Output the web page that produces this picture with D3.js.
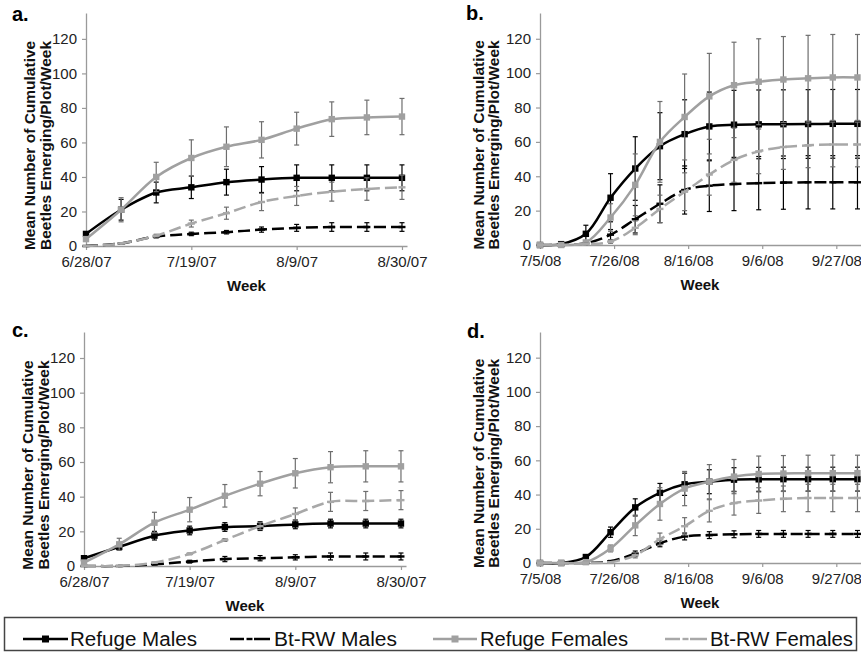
<!DOCTYPE html>
<html>
<head>
<meta charset="utf-8">
<script src="https://cdn.jsdelivr.net/npm/d3@7"></script>
<style>
  body { margin: 0; background: #fff; }
  svg { display: block; font-family: "Liberation Sans", Arial, sans-serif; }
</style>
</head>
<body>
<svg id="chart" width="861" height="652"></svg>
<script>

var seriesNames = ["Refuge Males", "Bt-RW Males", "Refuge Females", "Bt-RW Females"];

// sample weeks
var weeks2007 = ["2007-06-28","2007-07-05","2007-07-12","2007-07-19","2007-07-26","2007-08-02","2007-08-09","2007-08-16","2007-08-23","2007-08-30"];
var weeks2008 = ["2008-07-05","2008-07-11","2008-07-18","2008-07-25","2008-08-01","2008-08-08","2008-08-15","2008-08-22","2008-08-29","2008-09-05","2008-09-12","2008-09-19","2008-09-26","2008-10-03"];
var ticks2007 = ["2007-06-28","2007-07-19","2007-08-09","2007-08-30"];
var ticks2008 = ["2008-07-05","2008-07-26","2008-08-16","2008-09-06","2008-09-27"];
var yTicks = [0, 20, 40, 60, 80, 100, 120];

// panel a (2007)
var aRefugeMales    = [7, 21, 31, 34, 37, 38.5, 39.5, 39.5, 39.5, 39.5];
var aRefugeMalesErr = [1, 6, 6, 6.5, 7.5, 7.5, 7.5, 7.5, 7.5, 7.5];
var aBtMales        = [0, 1.5, 5.5, 7, 8, 9.5, 10.5, 11, 11, 11];
var aBtMalesErr     = [0, 0.3, 0.8, 1, 1, 1.5, 2, 2.5, 2.5, 2.5];
var aRefugeFem      = [4, 21, 40, 51, 57.5, 61.5, 68, 73.5, 74.5, 75];
var aRefugeFemErr   = [1, 7, 8.5, 10.5, 11.5, 10.5, 9.5, 10, 10, 10.5];
var aBtFem          = [0, 1.5, 6, 13, 19, 25.5, 29, 31.5, 33, 34];
var aBtFemErr       = [0, 0.3, 0.8, 2, 3.5, 5, 5.5, 5.5, 6.5, 7];

// panel b (2008)
var bRefugeMales    = [0, 0.5, 6.5, 27.5, 44.5, 57.5, 64.5, 69, 70, 70.2, 70.3, 70.4, 70.5, 70.5];
var bRefugeMalesErr = [0, 0.3, 5, 14, 18.5, 19.5, 20, 20, 20, 20, 20, 20, 20, 20];
var bBtMales        = [0, 0, 1, 6, 15, 24, 32, 34.5, 35.5, 36, 36.3, 36.5, 36.5, 36.5];
var bBtMalesErr     = [0, 0, 0.5, 3, 8, 11, 14, 15, 15.5, 15.5, 15.5, 15.5, 15.5, 15.5];
var bRefugeFem      = [0, 0, 1.5, 16, 35, 60, 74.5, 86.5, 93, 95, 96.3, 97, 97.5, 97.5];
var bRefugeFemErr   = [0, 0, 1, 8, 18, 23.5, 25, 25, 25, 25, 25, 25, 25, 25];
var bBtFem          = [0, 0, 0.5, 2, 10, 21, 31, 41, 49.5, 54.5, 57, 58, 58.5, 58.5];
var bBtFemErr       = [0, 0, 0.5, 1, 4, 8, 11, 12, 13, 13, 13, 13, 13, 13];

// panel c (2007)
var cRefugeMales    = [4.5, 11, 17.5, 20.5, 22.5, 23, 24, 24.5, 24.5, 24.5];
var cRefugeMalesErr = [0.5, 1.5, 2.5, 2.5, 2.5, 2.5, 2.5, 2.5, 2.5, 2.5];
var cBtMales        = [0, 0, 1, 2.5, 4, 4.5, 5, 5.5, 5.5, 5.5];
var cBtMalesErr     = [0, 0, 0.3, 0.8, 1.5, 1.5, 1.5, 2, 2, 2];
var cRefugeFem      = [2, 12.5, 25, 32.5, 40.5, 47.5, 53.5, 57, 57.5, 57.5];
var cRefugeFemErr   = [0.5, 3.5, 6, 7, 6.5, 7, 8.5, 9, 9, 9];
var cBtFem          = [0, 0, 2, 7, 15, 23, 30, 37, 37.5, 38];
var cBtFemErr       = [0, 0, 0.3, 0.5, 0.8, 2, 3.5, 5.5, 5.5, 5.5];

// panel d (2008)
var dRefugeMales    = [0, 0, 3.5, 18, 32.5, 41, 46, 47.5, 48.7, 48.9, 49, 49, 49, 49];
var dRefugeMalesErr = [0, 0, 1, 3, 5, 5.5, 6.5, 7, 7, 7, 7, 7, 7, 7];
var dBtMales        = [0, 0, 0, 1, 5.5, 11.5, 15.5, 16.3, 16.8, 17, 17, 17, 17, 17];
var dBtMalesErr     = [0, 0, 0, 0.5, 1.5, 2, 2, 2, 2, 2, 2, 2, 2, 2];
var dRefugeFem      = [0, 0, 0.5, 8.5, 22, 34.5, 43.5, 47.5, 50.5, 52, 52.3, 52.5, 52.5, 52.5];
var dRefugeFemErr   = [0, 0, 0.3, 2, 6, 9.5, 10, 10, 10, 10.5, 10.5, 10.5, 10.5, 10.5];
var dBtFem          = [0, 0, 0, 0.5, 4.5, 14, 21.5, 30.5, 35, 36.5, 37.5, 38, 38, 38];
var dBtFemErr       = [0, 0, 0, 0.3, 1.5, 3.5, 5, 6.5, 7, 7.5, 7.5, 8, 8, 8];

var parse = d3.timeParse("%Y-%m-%d");
var fmt = d3.timeFormat("%-m/%-d/%y");

var styles = [
  {color: "#000000", err: "#000000", dash: null,   marker: "square"},
  {color: "#000000", err: "#000000", dash: "12,5", marker: "dash"},
  {color: "#a0a0a0", err: "#6e6e6e", dash: null,   marker: "square"},
  {color: "#a8a8a8", err: "#6e6e6e", dash: "12,5", marker: "dash"}
];

var panels = [
  {label: "a.", lx: 12, ly: 21, weeks: weeks2007, ticks: ticks2007, end: "2007-08-31",
   left: 86, right: 407, top: 13, bottom: 246, titleX: 35,
   means: [aRefugeMales, aBtMales, aRefugeFem, aBtFem], errs: [aRefugeMalesErr, aBtMalesErr, aRefugeFemErr, aBtFemErr]},
  {label: "b.", lx: 466, ly: 20, weeks: weeks2008, ticks: ticks2008, end: "2008-10-04",
   left: 540, right: 861, top: 13, bottom: 245, titleX: 483.5,
   means: [bRefugeMales, bBtMales, bRefugeFem, bBtFem], errs: [bRefugeMalesErr, bBtMalesErr, bRefugeFemErr, bBtFemErr]},
  {label: "c.", lx: 12, ly: 337, weeks: weeks2007, ticks: ticks2007, end: "2007-08-31",
   left: 84, right: 406, top: 332, bottom: 566, titleX: 33,
   means: [cRefugeMales, cBtMales, cRefugeFem, cBtFem], errs: [cRefugeMalesErr, cBtMalesErr, cRefugeFemErr, cBtFemErr]},
  {label: "d.", lx: 467, ly: 338, weeks: weeks2008, ticks: ticks2008, end: "2008-10-04",
   left: 540, right: 861, top: 332, bottom: 563, titleX: 483.5,
   means: [dRefugeMales, dBtMales, dRefugeFem, dBtFem], errs: [dRefugeMalesErr, dBtMalesErr, dRefugeFemErr, dBtFemErr]}
];

var svg = d3.select("#chart");

panels.forEach(function(p) {

  var x = d3.scaleTime()
    .domain([parse(p.weeks[0]), parse(p.end)])
    .range([p.left, p.right]);

  var y = d3.scaleLinear()
    .domain([0, 135])
    .range([p.bottom, p.top]);

  var g = svg.append("g").attr("class", "panel");

  // axes
  var yAxis = g.append("g")
    .attr("transform", "translate(" + p.left + ",0)")
    .call(d3.axisLeft(y).tickValues(yTicks).tickSize(4).tickSizeOuter(0).tickPadding(5));

  var xAxis = g.append("g")
    .attr("transform", "translate(0," + p.bottom + ")")
    .call(d3.axisBottom(x).tickValues(p.ticks.map(parse)).tickFormat(fmt).tickSize(4).tickSizeOuter(0).tickPadding(6));

  [yAxis, xAxis].forEach(function(ax) {
    ax.select(".domain").attr("stroke", "#9a9a9a").attr("stroke-width", 1.3);
    ax.selectAll(".tick line").attr("stroke", "#9a9a9a").attr("stroke-width", 1.2);
    ax.selectAll(".tick text")
      .attr("fill", "#222")
      .style("font-size", "15px")
      .style("font-family", "'Liberation Sans', Arial, sans-serif");
  });

  // axis titles
  var cy = (y(0) + y(120)) / 2 + 3;
  var title = g.append("text")
    .attr("transform", "translate(" + p.titleX + "," + cy + ") rotate(-90)")
    .attr("text-anchor", "middle")
    .style("font-size", "15.5px")
    .style("font-weight", "bold")
    .attr("fill", "#111");
  title.append("tspan").attr("x", 0).attr("y", 0).text("Mean Number of Cumulative");
  title.append("tspan").attr("x", 0).attr("y", 15.5).text("Beetles Emerging/Plot/Week");

  g.append("text")
    .attr("x", (p.left + Math.min(p.right, 860)) / 2)
    .attr("y", p.bottom + 45)
    .attr("text-anchor", "middle")
    .style("font-size", "15px")
    .style("font-weight", "bold")
    .attr("fill", "#111")
    .text("Week");

  g.append("text")
    .attr("x", p.lx)
    .attr("y", p.ly)
    .style("font-size", "20px")
    .style("font-weight", "bold")
    .attr("fill", "#000")
    .text(p.label);

  // series
  p.means.forEach(function(vals, si) {
    var st = styles[si];
    var pts = vals.map(function(v, i) {
      return {date: parse(p.weeks[i]), v: v, e: p.errs[si][i]};
    });

    var line = d3.line()
      .x(function(d) { return x(d.date); })
      .y(function(d) { return y(d.v); })
      .curve(d3.curveCatmullRom.alpha(0.5));

    var sg = g.append("g").attr("class", "series");

    // error bars
    var eb = sg.selectAll(".err")
      .data(pts.filter(function(d) { return d.e > 0; }))
      .enter().append("g")
      .attr("class", "err")
      .attr("stroke", st.err)
      .attr("stroke-width", 1.2);
    eb.append("line")
      .attr("x1", function(d) { return x(d.date); })
      .attr("x2", function(d) { return x(d.date); })
      .attr("y1", function(d) { return y(d.v - d.e); })
      .attr("y2", function(d) { return y(d.v + d.e); });
    eb.append("line")
      .attr("x1", function(d) { return x(d.date) - 2.5; })
      .attr("x2", function(d) { return x(d.date) + 2.5; })
      .attr("y1", function(d) { return y(d.v - d.e); })
      .attr("y2", function(d) { return y(d.v - d.e); });
    eb.append("line")
      .attr("x1", function(d) { return x(d.date) - 2.5; })
      .attr("x2", function(d) { return x(d.date) + 2.5; })
      .attr("y1", function(d) { return y(d.v + d.e); })
      .attr("y2", function(d) { return y(d.v + d.e); });

    sg.append("path")
      .datum(pts)
      .attr("fill", "none")
      .attr("stroke", st.color)
      .attr("stroke-width", 2.5)
      .attr("stroke-dasharray", st.dash)
      .attr("d", line);

    if (st.marker == "square") {
      sg.selectAll(".mk")
        .data(pts)
        .enter().append("rect")
        .attr("x", function(d) { return x(d.date) - 3.2; })
        .attr("y", function(d) { return y(d.v) - 3.2; })
        .attr("width", 6.4)
        .attr("height", 6.4)
        .attr("fill", st.color);
    } else {
      sg.selectAll(".mk")
        .data(pts)
        .enter().append("rect")
        .attr("x", function(d) { return x(d.date) - 3.5; })
        .attr("y", function(d) { return y(d.v) - 1.2; })
        .attr("width", 7)
        .attr("height", 2.4)
        .attr("fill", st.color);
    }
  });
});

// legend
var legend = svg.append("g").attr("class", "legend");
legend.append("rect")
  .attr("x", 4.5)
  .attr("y", 617.5)
  .attr("width", 852)
  .attr("height", 33)
  .attr("fill", "#fff")
  .attr("stroke", "#444")
  .attr("stroke-width", 1.5);

var legendPos = [[23, 68, 70, 127], [230, 270, 274, 123], [433, 477, 480, 148], [665, 707, 710, 143]];
seriesNames.forEach(function(name, i) {
  var st = styles[i], lp = legendPos[i];
  var lg = legend.append("g");
  var ly = 639;
  if (st.marker == "square") {
    lg.append("line")
      .attr("x1", lp[0]).attr("x2", lp[1]).attr("y1", ly).attr("y2", ly)
      .attr("stroke", st.color).attr("stroke-width", 2.5);
    lg.append("rect")
      .attr("x", (lp[0] + lp[1]) / 2 - 3.5).attr("y", ly - 3.5)
      .attr("width", 7).attr("height", 7)
      .attr("fill", st.color);
  } else {
    var mid = (lp[0] + lp[1]) / 2;
    lg.append("line")
      .attr("x1", lp[0]).attr("x2", mid - 6).attr("y1", ly).attr("y2", ly)
      .attr("stroke", st.color).attr("stroke-width", 2.5);
    lg.append("line")
      .attr("x1", mid + 4).attr("x2", lp[1]).attr("y1", ly).attr("y2", ly)
      .attr("stroke", st.color).attr("stroke-width", 2.5);
    lg.append("rect")
      .attr("x", mid - 3.5).attr("y", ly - 1.2)
      .attr("width", 6).attr("height", 2.4)
      .attr("fill", st.color);
  }
  lg.append("text")
    .attr("x", lp[2])
    .attr("y", 646)
    .attr("textLength", lp[3])
    .attr("lengthAdjust", "spacingAndGlyphs")
    .style("font-size", "19.5px")
    .attr("fill", "#111")
    .text(name);
});

</script>
</body>
</html>
